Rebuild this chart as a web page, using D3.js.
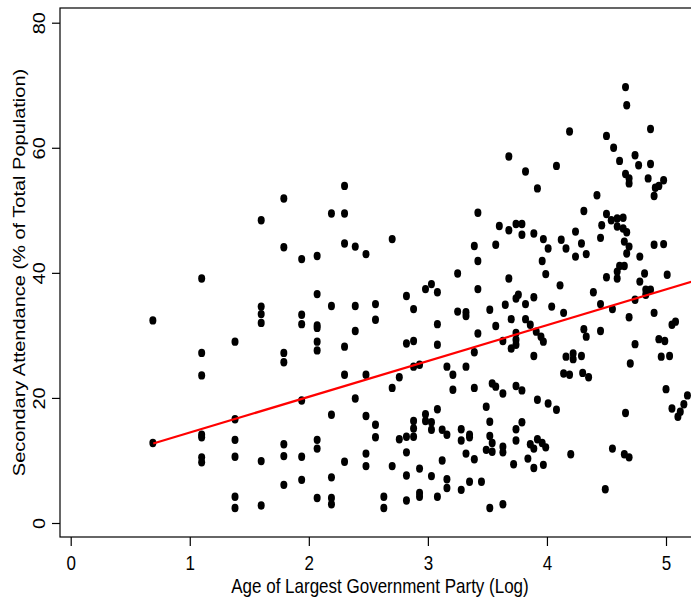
<!DOCTYPE html>
<html>
<head>
<meta charset="utf-8">
<script src="https://cdn.jsdelivr.net/npm/d3@7"></script>
<style>
  body { margin: 0; background: #fff; }
  text { font-family: "Liberation Sans", Arial, Helvetica, sans-serif; }
</style>
</head>
<body>
<div id="chart"></div>
<script>
// log(age of largest government party), secondary attendance (%)
const points = [
  [0.69,32.4],[0.69,12.8],
  [1.10,39.1],[1.10,27.2],[1.10,23.6],[1.10,14.1],[1.10,13.7],[1.10,10.5],[1.10,9.7],
  [1.38,29.0],[1.38,16.6],[1.38,13.3],[1.38,10.6],[1.38,4.2],[1.38,2.4],
  [1.60,48.4],[1.60,34.6],[1.60,33.4],[1.60,32.0],[1.60,9.9],[1.60,2.8],
  [1.79,51.9],[1.79,44.1],[1.79,27.2],[1.79,25.7],[1.79,12.6],[1.79,10.7],[1.79,6.1],
  [1.94,42.2],[1.94,33.3],[1.94,31.8],[1.94,19.6],[1.94,10.6],[1.94,6.9],
  [2.07,42.7],[2.07,36.6],[2.07,31.6],[2.07,31.2],[2.07,29.0],[2.07,27.6],[2.07,13.3],[2.07,11.9],[2.07,4.0],
  [2.19,49.5],[2.19,34.7],[2.19,17.3],[2.19,7.3],[2.19,4.0],[2.19,3.0],
  [2.30,53.9],[2.30,49.5],[2.30,44.7],[2.30,28.2],[2.30,23.7],[2.30,9.8],
  [2.39,44.2],[2.39,34.7],[2.39,30.7],[2.39,19.9],
  [2.48,43.0],[2.48,23.7],[2.48,17.1],[2.48,11.1],[2.48,9.1],
  [2.56,35.0],[2.56,32.5],[2.56,15.7],[2.56,13.7],
  [2.63,4.2],[2.63,2.4],
  [2.70,45.4],[2.70,21.6],[2.70,9.1],
  [2.76,23.3],[2.76,13.4],
  [2.82,36.3],[2.82,28.7],[2.82,13.8],[2.82,11.3],[2.82,7.6],[2.82,3.6],
  [2.88,34.2],[2.88,29.1],[2.88,25.0],[2.88,16.3],[2.88,15.1],[2.88,13.8],
  [2.93,25.3],[2.93,8.7],[2.93,4.8],[2.93,4.2],
  [2.98,37.4],[2.98,17.4],[2.98,16.3],
  [3.03,38.2],[3.03,16.1],[3.03,14.9],[3.03,7.5],
  [3.08,36.9],[3.08,31.8],[3.08,28.5],[3.08,18.2],[3.08,4.2],
  [3.12,14.9],[3.12,10.0],
  [3.16,25.0],[3.16,14.1],[3.16,7.0],[3.16,5.6],
  [3.21,23.7],[3.21,21.3],
  [3.25,39.9],[3.25,33.8],
  [3.28,15.0],[3.28,13.2],[3.28,5.3],
  [3.32,33.7],[3.32,33.1],[3.32,25.0],[3.32,11.1],
  [3.35,14.1],[3.35,13.7],[3.35,6.6],
  [3.39,44.3],[3.39,27.3],[3.39,21.6],[3.39,10.2],
  [3.42,49.6],[3.42,41.9],[3.42,37.4],[3.42,30.3],
  [3.45,6.6],
  [3.49,18.6],[3.49,11.7],
  [3.52,34.1],[3.52,16.2],[3.52,13.9],[3.52,2.4],
  [3.54,22.3],[3.54,12.8],[3.54,11.4],
  [3.57,44.5],[3.57,31.5],[3.57,21.8],
  [3.60,47.5],
  [3.63,29.1],[3.63,20.7],[3.63,12.2],[3.63,11.3],[3.63,3.0],
  [3.65,34.9],
  [3.68,58.6],[3.68,46.8],[3.68,39.1],
  [3.70,32.6],[3.70,27.9],
  [3.72,9.4],
  [3.74,47.8],[3.74,35.9],[3.74,30.4],[3.74,29.3],[3.74,28.5],[3.74,21.9],[3.74,15.0],[3.74,13.2],
  [3.76,36.5],
  [3.79,47.8],[3.79,46.1],[3.79,21.2],[3.79,16.1],
  [3.82,56.2],[3.82,35.0],[3.82,32.6],
  [3.84,10.3],
  [3.86,31.7],[3.86,12.6],
  [3.89,46.3],[3.89,36.1],[3.89,26.7],[3.89,11.9],[3.89,8.8],
  [3.91,30.6],
  [3.92,53.5],[3.92,19.7],[3.92,13.4],
  [3.95,29.8],
  [3.96,41.9],[3.96,12.8],
  [3.97,45.4],[3.97,29.0],[3.97,9.3],
  [3.99,39.8],[3.99,12.1],
  [4.01,43.9],[4.01,19.1],
  [4.04,34.6],
  [4.08,57.1],[4.08,18.1],
  [4.11,38.0],
  [4.12,45.3],
  [4.14,33.6],[4.14,23.9],
  [4.16,43.9],[4.16,26.6],
  [4.19,62.6],[4.19,23.7],
  [4.20,11.0],
  [4.22,27.1],[4.22,26.2],
  [4.24,46.6],[4.24,42.6],
  [4.29,44.7],[4.29,26.7],
  [4.30,24.0],
  [4.31,49.9],[4.31,31.0],
  [4.33,43.0],[4.33,29.8],
  [4.35,23.3],
  [4.39,36.9],
  [4.42,52.4],
  [4.45,45.6],[4.45,35.0],[4.45,30.7],
  [4.46,47.6],
  [4.49,5.4],
  [4.50,61.9],[4.50,49.4],[4.50,39.3],
  [4.54,48.4],
  [4.55,34.2],[4.55,11.9],
  [4.56,60.0],
  [4.59,48.7],[4.59,47.4],[4.59,40.2],[4.59,39.1],
  [4.61,57.9],[4.61,41.1],
  [4.64,48.8],[4.64,47.1],
  [4.65,45.0],[4.65,41.1],[4.65,11.0],
  [4.66,69.7],[4.66,55.8],[4.66,17.6],
  [4.67,66.8],[4.67,46.5],[4.67,43.1],
  [4.69,55.1],[4.69,54.3],[4.69,44.2],[4.69,32.9],[4.69,10.5],
  [4.70,25.5],
  [4.74,58.8],[4.74,35.7],[4.74,28.6],
  [4.77,57.2],
  [4.78,42.6],[4.78,38.6],
  [4.82,39.9],
  [4.83,37.3],[4.83,36.5],
  [4.85,55.1],
  [4.87,63.0],[4.87,57.4],[4.87,37.3],
  [4.90,52.3],[4.90,44.5],[4.90,33.6],
  [4.91,53.6],
  [4.94,53.9],[4.94,29.4],
  [4.96,26.6],
  [4.98,54.8],[4.98,44.6],
  [4.99,29.1],
  [5.00,21.4],
  [5.01,39.7],
  [5.03,26.7],
  [5.05,31.7],[5.05,18.3],
  [5.08,32.2],
  [5.10,17.0],
  [5.12,17.8],
  [5.15,19.0],
  [5.18,20.4]
];

// fitted line
const fitIntercept = 8.74;
const fitSlope = 5.72;
const fitRange = [0.693, 5.35];

const xTicks = [0, 1, 2, 3, 4, 5];
const yTicks = [0, 20, 40, 60, 80];

const width = 691, height = 601;
const box = {left: 60, top: 8, right: 700, bottom: 537};
const squeeze = 0.85; // text looks horizontally condensed

const svg = d3.select("#chart")
    .append("svg")
    .attr("width", width)
    .attr("height", height);

const x = d3.scaleLinear()
    .domain([0, 5])
    .range([70.7, 666]);

const y = d3.scaleLinear()
    .domain([0, 80])
    .range([523, 22.7]);

// points
svg.append("g")
    .selectAll("ellipse")
    .data(points)
    .enter()
    .append("ellipse")
    .attr("cx", d => x(d[0]))
    .attr("cy", d => y(d[1]))
    .attr("rx", 3.5)
    .attr("ry", 4.2)
    .attr("fill", "#000");

// regression line
svg.append("line")
    .attr("x1", x(fitRange[0]))
    .attr("y1", y(fitIntercept + fitSlope * fitRange[0]))
    .attr("x2", x(fitRange[1]))
    .attr("y2", y(fitIntercept + fitSlope * fitRange[1]))
    .attr("stroke", "#ff0000")
    .attr("stroke-width", 2.2);

// frame
svg.append("rect")
    .attr("x", box.left)
    .attr("y", box.top)
    .attr("width", box.right - box.left)
    .attr("height", box.bottom - box.top)
    .attr("fill", "none")
    .attr("stroke", "#000")
    .attr("stroke-width", 1.2);

// x axis
const xAxis = svg.append("g")
    .attr("transform", `translate(0,${box.bottom})`)
    .call(d3.axisBottom(x).tickValues(xTicks).tickSize(9).tickFormat(d3.format("d")));
xAxis.select(".domain").remove();
xAxis.selectAll("line").attr("stroke", "#000").attr("stroke-width", 1.2);
xAxis.selectAll("text")
    .attr("y", null)
    .attr("dy", null)
    .attr("transform", `translate(0,33) scale(${squeeze},1)`)
    .style("font-size", "20px")
    .attr("fill", "#000");

// y axis
const yAxis = svg.append("g")
    .attr("transform", `translate(${box.left},0)`)
    .call(d3.axisLeft(y).tickValues(yTicks).tickSize(8));
yAxis.select(".domain").remove();
yAxis.selectAll("line").attr("stroke", "#000").attr("stroke-width", 1.2);
yAxis.selectAll("text")
    .attr("x", null)
    .attr("dy", null)
    .attr("text-anchor", "middle")
    .attr("transform", `translate(-15.4,0) scale(${squeeze},1) rotate(-90)`)
    .style("font-size", "20px")
    .attr("fill", "#000");

// axis titles
svg.append("text")
    .attr("transform", `translate(${(box.left + box.right) / 2},593) scale(${squeeze},1)`)
    .attr("text-anchor", "middle")
    .style("font-size", "20px")
    .text("Age of Largest Government Party (Log)");

svg.append("text")
    .attr("transform", `translate(25,${(box.top + box.bottom) / 2}) scale(${squeeze},1) rotate(-90)`)
    .attr("text-anchor", "middle")
    .style("font-size", "20px")
    .text("Secondary Attendance (% of Total Population)");
</script>
</body>
</html>
